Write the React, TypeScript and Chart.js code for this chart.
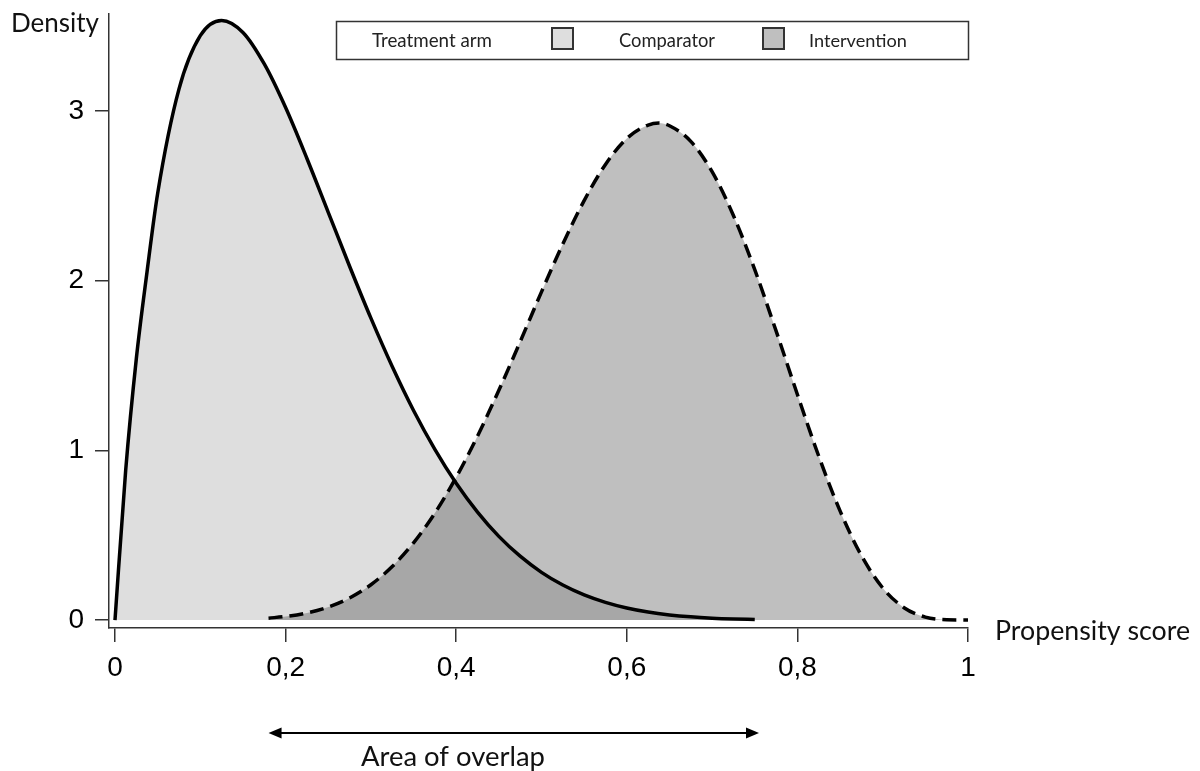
import React, { useEffect, useRef } from "react";
import { Chart, registerables } from "chart.js";

Chart.register(...registerables);

// ---- Data ----
const comparatorX = [0, 0.0125, 0.025, 0.0375, 0.05, 0.075, 0.1, 0.125, 0.15, 0.175, 0.2, 0.225, 0.25, 0.275, 0.3, 0.325, 0.35, 0.375, 0.4, 0.425, 0.45, 0.475, 0.5, 0.525, 0.55, 0.575, 0.6, 0.625, 0.65, 0.675, 0.7, 0.725, 0.75];
const comparatorY = [0, 0.88, 1.54, 2.05, 2.514, 3.129, 3.444, 3.534, 3.463, 3.277, 3.02, 2.72, 2.403, 2.085, 1.779, 1.494, 1.235, 1.006, 0.806, 0.636, 0.493, 0.376, 0.281, 0.206, 0.148, 0.104, 0.0708, 0.0469, 0.0301, 0.0186, 0.011, 0.0062, 0.0033];

const interventionX = [0.18, 0.2, 0.225, 0.25, 0.275, 0.3, 0.325, 0.35, 0.375, 0.4, 0.425, 0.45, 0.475, 0.5, 0.525, 0.55, 0.575, 0.6, 0.625, 0.6375, 0.65, 0.675, 0.7, 0.725, 0.75, 0.775, 0.8, 0.825, 0.85, 0.875, 0.9, 0.925, 0.95, 0.975, 1.0];
const interventionY = [0.011, 0.0208, 0.0417, 0.0765, 0.13, 0.208, 0.315, 0.455, 0.63, 0.841, 1.084, 1.354, 1.64, 1.934, 2.216, 2.472, 2.685, 2.838, 2.917, 2.929, 2.913, 2.821, 2.642, 2.384, 2.065, 1.704, 1.329, 0.966, 0.643, 0.38, 0.189, 0.0726, 0.0173, 0.0013, 0];

const xTickValues = [0, 0.2, 0.4, 0.6, 0.8, 1];
const xTickLabels = ["0", "0,2", "0,4", "0,6", "0,8", "1"];
const yTickValues = [0, 1, 2, 3];
const yTickLabels = ["0", "1", "2", "3"];

const overlapRange = [0.18, 0.755];

const xTitle = "Propensity score";
const yTitle = "Density";
const legendTitle = "Treatment arm";
const seriesNames = ["Comparator", "Intervention"];
const overlapLabel = "Area of overlap";

const TEXT_FONT = "Lato";
const TICK_FONT = "'Liberation Sans', Arial, sans-serif";

function fitText(ctx: CanvasRenderingContext2D, text: string, x: number, y: number, width: number) {
  ctx.font = `20px ${TEXT_FONT}`;
  const w = ctx.measureText(text).width;
  const size = (20 * width) / w;
  ctx.font = `${size.toFixed(2)}px ${TEXT_FONT}`;
  ctx.fillText(text, x, y);
}

function arrowHead(ctx: CanvasRenderingContext2D, tipX: number, y: number, dir: number) {
  ctx.beginPath();
  ctx.moveTo(tipX, y);
  ctx.lineTo(tipX - dir * 13, y - 5.5);
  ctx.lineTo(tipX - dir * 13, y + 5.5);
  ctx.closePath();
  ctx.fill();
}

const annotations = {
  id: "annotations",
  afterDraw(chart: any) {
    const ctx: CanvasRenderingContext2D = chart.ctx;
    const xs = chart.scales.x;
    ctx.save();
    ctx.fillStyle = "#111";
    ctx.textBaseline = "alphabetic";
    ctx.textAlign = "left";

    fitText(ctx, yTitle, 11, 32, 88);
    fitText(ctx, xTitle, 995, 640, 195);

    // legend box
    ctx.strokeStyle = "#333";
    ctx.lineWidth = 1.5;
    ctx.strokeRect(336.5, 21.5, 632, 38);
    ctx.fillStyle = "#222";
    fitText(ctx, legendTitle, 372, 47, 120);
    const sq = [
      { x: 552, fill: "#dedede", tx: 619, tw: 96 },
      { x: 763, fill: "#bfbfbf", tx: 809, tw: 98 },
    ];
    sq.forEach((s, i) => {
      ctx.fillStyle = s.fill;
      ctx.fillRect(s.x, 28, 21, 21);
      ctx.strokeStyle = "#333";
      ctx.lineWidth = 2;
      ctx.strokeRect(s.x, 28, 21, 21);
      ctx.fillStyle = "#222";
      fitText(ctx, seriesNames[i], s.tx, 47, s.tw);
    });

    // overlap arrow
    const x0 = xs.getPixelForValue(overlapRange[0]);
    const x1 = xs.getPixelForValue(overlapRange[1]);
    const ay = 733;
    ctx.strokeStyle = "#000";
    ctx.fillStyle = "#000";
    ctx.lineWidth = 2;
    ctx.beginPath();
    ctx.moveTo(x0 + 6, ay);
    ctx.lineTo(x1 - 6, ay);
    ctx.stroke();
    arrowHead(ctx, x0, ay, -1);
    arrowHead(ctx, x1, ay, 1);
    ctx.fillStyle = "#111";
    fitText(ctx, overlapLabel, 361, 766, 184);
    ctx.restore();
  },
};

export default function App() {
  const ref = useRef<HTMLCanvasElement | null>(null);
  useEffect(() => {
    if (!ref.current) return;
    const axisColor = "#333";
    const chart = new Chart(ref.current, {
      type: "line",
      data: {
        datasets: [
          {
            label: seriesNames[0],
            data: comparatorX.map((x, i) => ({ x, y: comparatorY[i] })),
            borderColor: "#000",
            borderWidth: 3.5,
            backgroundColor: "rgba(0,0,0,0.13)",
            fill: "origin",
            pointRadius: 0,
            cubicInterpolationMode: "monotone",
          },
          {
            label: seriesNames[1],
            data: interventionX.map((x, i) => ({ x, y: interventionY[i] })),
            borderColor: "#000",
            borderWidth: 3.5,
            borderDash: [14, 7],
            backgroundColor: "rgba(0,0,0,0.25)",
            fill: "origin",
            pointRadius: 0,
            cubicInterpolationMode: "monotone",
          },
        ],
      },
      options: {
        animation: false,
        responsive: false,
        maintainAspectRatio: false,
        layout: { padding: { left: 0, top: 14, right: 232, bottom: 0 } },
        plugins: {
          legend: { display: false },
          tooltip: { enabled: false },
          filler: { drawTime: "beforeDatasetsDraw" },
        } as any,
        scales: {
          x: {
            type: "linear",
            min: -0.00703,
            max: 1,
            afterBuildTicks: (s: any) => {
              s.ticks = xTickValues.map((v) => ({ value: v }));
            },
            afterFit: (s: any) => {
              s.height = 143;
              s.paddingLeft = 0;
              s.paddingRight = 0;
            },
            grid: { display: true, drawOnChartArea: false, drawTicks: true, tickLength: 14, color: axisColor, lineWidth: 1.5 },
            border: { display: true, color: axisColor, width: 1.5 },
            ticks: {
              autoSkip: false,
              maxRotation: 0,
              padding: 9,
              color: "#000",
              font: { family: TICK_FONT, size: 28 },
              callback: (_v: any, i: number) => xTickLabels[i],
            },
          },
          y: {
            type: "linear",
            min: -0.0471,
            max: 3.5716,
            afterBuildTicks: (s: any) => {
              s.ticks = yTickValues.map((v) => ({ value: v }));
            },
            afterFit: (s: any) => {
              s.width = 109;
              s.paddingTop = 0;
              s.paddingBottom = 0;
            },
            grid: { display: true, drawOnChartArea: false, drawTicks: true, tickLength: 14, color: axisColor, lineWidth: 1.5 },
            border: { display: true, color: axisColor, width: 1.5 },
            ticks: {
              autoSkip: false,
              padding: 11,
              color: "#000",
              font: { family: TICK_FONT, size: 28 },
              callback: (_v: any, i: number) => yTickLabels[i],
            },
          },
        },
      } as any,
      plugins: [annotations],
    });
    return () => chart.destroy();
  }, []);
  return (
    <div style={{ position: "fixed", left: 0, top: 0, width: 1200, height: 771, background: "#fff" }}>
      <canvas ref={ref} width={1200} height={771} style={{ display: "block" }} />
    </div>
  );
}
